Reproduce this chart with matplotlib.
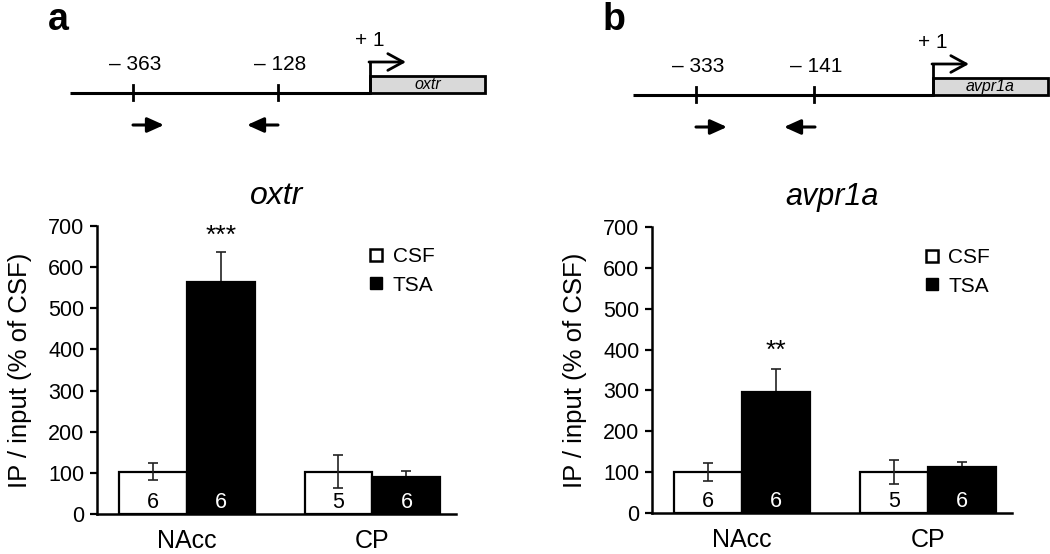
import matplotlib
matplotlib.use("Agg")
import matplotlib.pyplot as plt
from matplotlib.lines import Line2D
from matplotlib.patches import Rectangle
import numpy as np

plt.rcParams['font.family'] = ['Liberation Sans', 'DejaVu Sans']

# ---- data ----
regions = ["NAcc", "CP"]
groups = ["CSF", "TSA"]

oxtr_csf = [103, 103]
oxtr_csf_err = [21, 40]
oxtr_tsa = [565, 90]
oxtr_tsa_err = [73, 15]
oxtr_n_csf = [6, 5]
oxtr_n_tsa = [6, 6]
oxtr_sig = ["***", ""]

avpr_csf = [100, 100]
avpr_csf_err = [22, 30]
avpr_tsa = [296, 113]
avpr_tsa_err = [56, 11]
avpr_n_csf = [6, 5]
avpr_n_tsa = [6, 6]
avpr_sig = ["**", ""]

yticks = [0, 100, 200, 300, 400, 500, 600, 700]

# diagram data
oxtr_sites = ["\u2013 363", "\u2013 128"]
avpr_sites = ["\u2013 333", "\u2013 141"]

fig = plt.figure(figsize=(10.5, 5.54), dpi=100)


def bar_panel(rect, title, title_size, csf, csf_err, tsa, tsa_err, n_csf, n_tsa, sig, sig_y, ylabel):
    ax = fig.add_axes(rect)
    x = np.arange(len(regions))
    w = 0.366
    ax.bar(x - w / 2, csf, w, color="white", edgecolor="black", linewidth=1.6, zorder=2)
    ax.bar(x + w / 2, tsa, w, color="black", edgecolor="black", linewidth=1.6, zorder=2)
    ax.errorbar(x - w / 2, csf, yerr=csf_err, fmt="none", ecolor="#222222",
                elinewidth=1.2, capsize=3.5, capthick=1.2, zorder=3)
    ax.errorbar(x + w / 2, tsa, yerr=[np.zeros(len(tsa)), tsa_err], fmt="none",
                ecolor="#222222", elinewidth=1.2, capsize=3.5, capthick=1.2, zorder=1.5)
    for i in range(len(regions)):
        ax.text(x[i] - w / 2, 29, str(n_csf[i]), ha="center", va="center",
                fontsize=15.5, color="black", zorder=4)
        ax.text(x[i] + w / 2, 29, str(n_tsa[i]), ha="center", va="center",
                fontsize=15.5, color="white", zorder=4)
        if sig[i]:
            ax.text(x[i] + w / 2, sig_y, sig[i], ha="center", va="center",
                    fontsize=19, color="black")
    ax.set_xlim(-0.484, 1.45)
    ax.set_ylim(0, 700)
    ax.set_yticks(yticks)
    ax.set_xticks(x)
    ax.set_xticklabels(regions, fontsize=18)
    ax.tick_params(axis="y", labelsize=15.5, width=1.6, length=5, direction="out", pad=4)
    ax.tick_params(axis="x", length=0, pad=11)
    for s in ["top", "right"]:
        ax.spines[s].set_visible(False)
    for s in ["left", "bottom"]:
        ax.spines[s].set_linewidth(1.8)
    ax.set_ylabel(ylabel, fontsize=18.5, labelpad=12)
    ax.text(0.5, 1.105, title, transform=ax.transAxes, ha="center", va="center",
            fontsize=title_size, style="italic")
    handles = [Line2D([], [], marker="s", linestyle="none", markersize=8,
                      markerfacecolor="white", markeredgecolor="black", markeredgewidth=1.8),
               Line2D([], [], marker="s", linestyle="none", markersize=8,
                      markerfacecolor="black", markeredgecolor="black")]
    ax.legend(handles, groups, loc="upper left", bbox_to_anchor=(0.725, 0.955),
              frameon=False, fontsize=15, handletextpad=0.3, labelspacing=0.45,
              handlelength=1.0, borderaxespad=0)
    return ax


bar_panel([97 / 1050, 40 / 554, 359 / 1050, 288 / 554], "oxtr", 23,
          oxtr_csf, oxtr_csf_err, oxtr_tsa, oxtr_tsa_err, oxtr_n_csf, oxtr_n_tsa,
          oxtr_sig, 676, "IP / input (% of CSF)")
bar_panel([652 / 1050, 41 / 554, 360 / 1050, 286 / 554], "avpr1a", 22,
          avpr_csf, avpr_csf_err, avpr_tsa, avpr_tsa_err, avpr_n_csf, avpr_n_tsa,
          avpr_sig, 396, "IP / input (% of CSF)")

# ---- gene diagrams (schematic, overlay in pixel units) ----
ov = fig.add_axes([0, 0, 1, 1])
ov.set_xlim(0, 1050)
ov.set_ylim(554, 0)
ov.axis("off")


def gene(letter, lx, x0, tick_xs, sites, tss, box_end, gene_name, base_y, fwd_x, rev_x):
    ov.text(lx, 20, letter, fontsize=27, fontweight="bold", ha="center", va="center")
    ov.plot([x0, tss], [base_y, base_y], color="black", lw=2.2, solid_capstyle="butt")
    ov.add_patch(Rectangle((tss, base_y - 17), box_end - tss, 17, facecolor="#d9d9d9",
                           edgecolor="black", lw=2.0))
    ov.text((tss + box_end) / 2, base_y - 8.5, gene_name, fontsize=11.5, style="italic",
            ha="center", va="center")
    for tx, lab in zip(tick_xs, sites):
        ov.plot([tx, tx], [base_y - 8, base_y + 7], color="black", lw=2.0)
        ov.text(tx + 2, base_y - 28, lab, fontsize=15, ha="center", va="center")
    # promoter arrow
    ov.plot([tss, tss], [base_y, base_y - 31], color="black", lw=2.0)
    ov.annotate("", xy=(tss + 36, base_y - 31), xytext=(tss - 1, base_y - 31),
                arrowprops=dict(arrowstyle="->,head_length=1.1,head_width=0.6",
                                lw=2.0, color="black", shrinkA=0, shrinkB=0))
    ov.text(tss + 0, base_y - 53, "+ 1", fontsize=15, ha="center", va="center")
    # primers
    py = base_y + 32
    ov.annotate("", xy=(fwd_x + 31, py), xytext=(fwd_x, py),
                arrowprops=dict(arrowstyle="-|>,head_length=1.0,head_width=0.45",
                                lw=2.2, color="black", shrinkA=0, shrinkB=0))
    ov.annotate("", xy=(rev_x - 31, py), xytext=(rev_x, py),
                arrowprops=dict(arrowstyle="-|>,head_length=1.0,head_width=0.45",
                                lw=2.2, color="black", shrinkA=0, shrinkB=0))


gene("a", 58, 70, [133, 278], oxtr_sites, 370, 485, "oxtr", 93, 133, 278)
gene("b", 614, 633, [696, 814], avpr_sites, 933, 1048, "avpr1a", 95, 696, 815)

fig.savefig("out.png", dpi=100)
